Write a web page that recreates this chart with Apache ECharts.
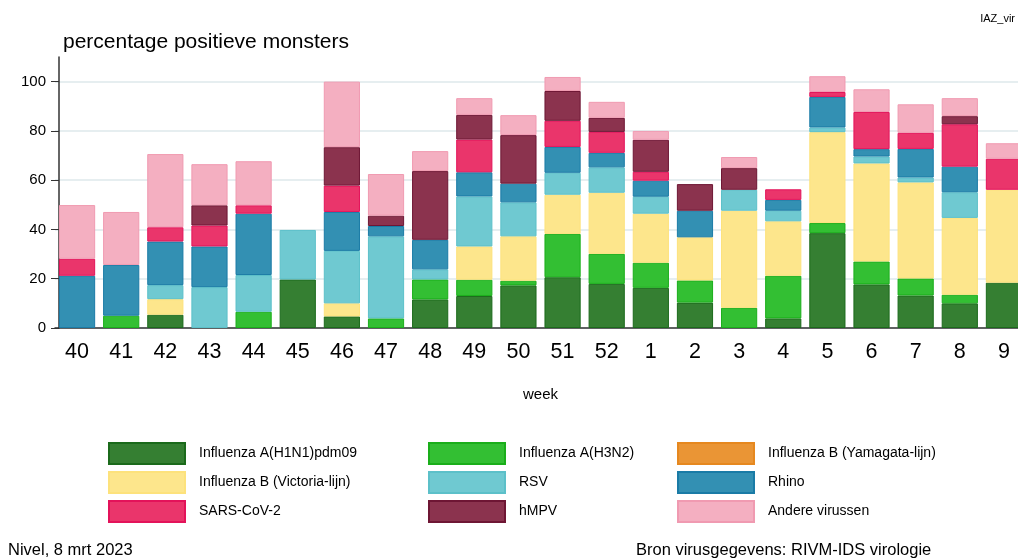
<!DOCTYPE html>
<html>
<head>
<meta charset="utf-8">
<script src="https://cdn.jsdelivr.net/npm/echarts@6/dist/echarts.min.js"></script>
<style>html,body{margin:0;padding:0;background:#fff;overflow:hidden}#c{width:1018px;height:559px}</style>
</head>
<body>
<div id="c"></div>
<script>
var weeks = ['40','41','42','43','44','45','46','47','48','49','50','51','52','1','2','3','4','5','6','7','8','9'];
var yTicks = [0, 20, 40, 60, 80, 100];
var h1n1     = [0,0,5.4,0,0,19.7,4.7,0,11.6,13.0,17.3,20.6,17.9,16.3,10.3,0,3.9,38.5,17.7,13.2,10.0,18.4];
var h3n2     = [0,5.0,0,0,6.6,0,0,3.9,8.1,6.6,1.9,17.6,12.2,10.2,9.0,8.2,17.3,4.1,9.3,6.9,3.5,0];
var yamagata = [0,0,0,0,0,0,0,0,0,0,0,0,0,0,0,0,0,0,0,0,0,0];
var victoria = [0,0,6.3,0,0,0,5.3,0,0,13.5,18.0,15.9,24.8,19.9,17.5,39.4,22.1,36.9,39.8,39.0,31.2,37.7];
var rsv      = [0,0,5.7,16.6,14.9,20.1,21.3,33.3,4.1,20.3,13.8,8.9,10.3,6.9,0,8.5,4.3,1.9,2.8,2.0,10.4,0];
var rhino    = [21.2,20.6,17.7,16.5,24.9,0,15.8,4.2,12.0,9.8,7.6,10.5,5.9,6.5,10.8,0,4.4,12.4,3.0,11.6,10.4,0];
var sars     = [6.9,0,5.8,8.5,3.4,0,10.7,0,0,13.3,0,10.6,8.5,3.6,0,0,4.3,2.0,15.1,6.5,17.2,12.6];
var hmpv     = [0,0,0,8.2,0,0,15.6,4.2,27.9,10.0,19.7,12.1,5.7,13.0,10.8,8.8,0,0,0,0,3.3,0];
var andere   = [21.8,21.5,29.7,16.7,17.9,0,26.6,16.9,8.1,6.8,8.1,5.7,6.5,3.6,0,4.5,0,6.4,9.2,11.6,7.3,6.3];

var names = ['Influenza A(H1N1)pdm09','Influenza A(H3N2)','Influenza B (Yamagata-lijn)','Influenza B (Victoria-lijn)','RSV','Rhino','SARS-CoV-2','hMPV','Andere virussen'];
var values = [h1n1, h3n2, yamagata, victoria, rsv, rhino, sars, hmpv, andere];
var fills = ['#357f32','#33bf33','#ea9535','#fde68c','#6fc9d1','#3390b3','#ea356b','#8b334e','#f4afc1'];
var borders = ['#1b6a1b','#1aae1a','#e6881f','#fde27c','#5cc0c9','#1a7ba6','#e3135a','#6e1634','#f09ab1'];

var FONT = 'Liberation Sans';
var series = names.map(function (n, i) {
  return {
    name: n, type: 'bar', stack: 'all', barWidth: '82%',
    itemStyle: { color: fills[i], borderColor: borders[i], borderWidth: 1 },
    emphasis: { disabled: true },
    data: values[i].map(function (v) { return v === 0 ? null : v; })
  };
});

function legend(data, left) {
  return {
    data: data, orient: 'vertical', left: left, top: 442, padding: 0,
    itemWidth: 76, itemHeight: 21, itemGap: 6, icon: 'rect',
    textStyle: { fontFamily: FONT, fontSize: 14, color: '#000', padding: [0, 0, 0, 9] }
  };
}

var chart = echarts.init(document.getElementById('c'));
chart.setOption({
  animation: false,
  backgroundColor: '#fff',
  title: { text: 'percentage positieve monsters', left: 58, top: 27,
    textStyle: { fontFamily: FONT, fontSize: 21, fontWeight: 'normal', color: '#000' } },
  grid: { left: 55, top: 57, width: 971, height: 271, containLabel: false, outerBoundsMode: 'none' },
  legend: [
    legend([names[0], names[3], names[6]], 108),
    legend([names[1], names[4], names[7]], 428),
    legend([names[2], names[5], names[8]], 677)
  ],
  xAxis: {
    type: 'category', data: weeks,
    name: 'week', nameLocation: 'middle', nameGap: 59,
    nameTextStyle: { fontFamily: FONT, fontSize: 15, color: '#000' },
    axisLine: { lineStyle: { color: '#333', width: 1.5 } },
    axisTick: { alignWithLabel: true, length: 7, lineStyle: { color: '#333' } },
    axisLabel: { fontFamily: FONT, fontSize: 21.5, color: '#000', margin: 13 }
  },
  yAxis: {
    type: 'value', min: 0, max: 110, interval: 20, offset: -4,
    axisLine: { show: true, lineStyle: { color: '#333', width: 1.5 } },
    axisTick: { show: true, length: 8, customValues: yTicks, lineStyle: { color: '#333' } },
    axisLabel: { fontFamily: FONT, fontSize: 15, color: '#000', margin: 13,
      customValues: yTicks },
    splitLine: { lineStyle: { color: ['#e6eef0','#e6eef0','#e6eef0','#e6eef0','#e6eef0','#e6eef0','rgba(0,0,0,0)'], width: 2 } }
  },
  graphic: [
    { type: 'text', right: 3, top: 13, style: { text: 'IAZ_vir', font: '11px "Liberation Sans"', fill: '#000' } },
    { type: 'text', left: 8, top: 542, style: { text: 'Nivel, 8 mrt 2023', font: '16.5px "Liberation Sans"', fill: '#000' } },
    { type: 'text', left: 636, top: 542, style: { text: 'Bron virusgegevens: RIVM-IDS virologie', font: '16.5px "Liberation Sans"', fill: '#000' } }
  ],
  series: series
});
</script>
</body>
</html>
